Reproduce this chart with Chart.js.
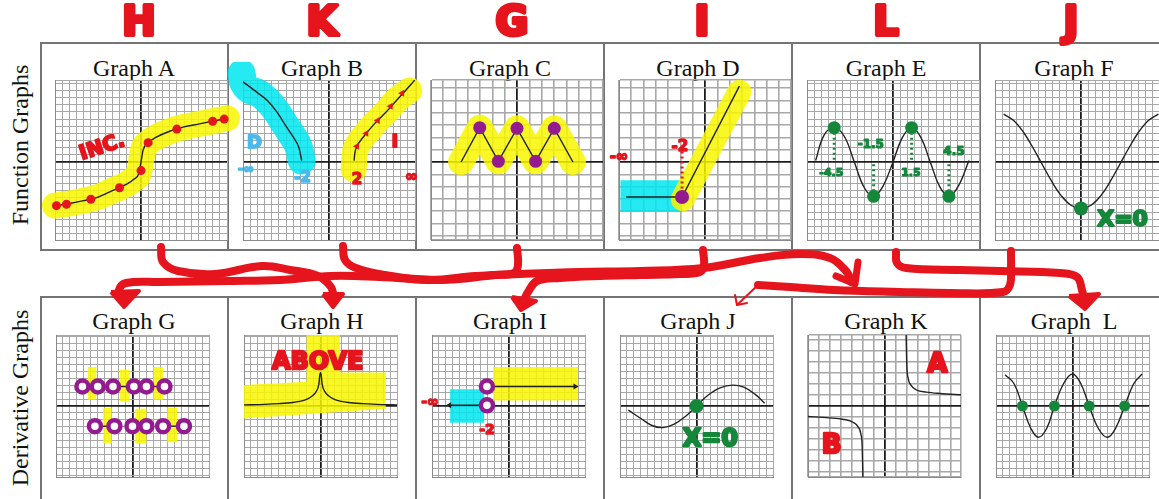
<!DOCTYPE html>
<html>
  <head>
    <meta charset="utf-8" />
    <title>Function Graphs vs Derivative Graphs</title>
    <script src="https://cdn.jsdelivr.net/npm/chart.js@4.4.1/dist/chart.umd.min.js"></script>
    <style>
      html, body { margin: 0; width: 1159px; height: 499px; overflow: hidden; background: #fff; }
      body { position: relative; font-family: "Liberation Serif", "DejaVu Serif", serif; color: #111; }
      .box { position: absolute; border: 2px solid #747474; box-sizing: border-box; }
      .vline { position: absolute; width: 2px; background: #747474; }
      .title { position: absolute; width: 188px; text-align: center; font-size: 24px; line-height: 24px; white-space: pre; }
      .row { position: absolute; width: 220px; height: 30px; line-height: 30px; text-align: center; font-size: 24px; transform: rotate(-90deg); white-space: nowrap; }
      canvas { position: absolute; }
    </style>
  </head>
  <body>
    <script>
      const RED = "#e5141d", YELLOW = "rgba(248,246,0,0.85)", CYAN = "rgba(0,230,240,0.85)";
      const PURPLE = "#941b8f", GREEN = "#15873b", BLUE = "#4db9ea", INK = "#222";

      // ---- function graphs (units: 1 = two small squares) ----
      const aX = [-6, -5, -4, -3, -2, -1, -0.5, -0.15, 0, 0.15, 0.5, 1, 2, 3, 4, 5, 6];
      const aY = [-3.05, -2.9, -2.7, -2.45, -2.0, -1.55, -1.2, -0.8, 0, 0.85, 1.35, 1.7, 2.15, 2.45, 2.65, 2.85, 3.05];
      const aMarkX = [-5.9, -5.2, -3.5, -1.5, 0, 0.5, 2.5, 5, 5.8];
      const aMarkY = [-3.05, -2.95, -2.6, -1.8, -0.6, 1.35, 2.3, 2.85, 3.0];

      const bLX = [-6, -5, -4.3, -3.6, -3, -2.5, -2.1, -1.9];
      const bLY = [5.6, 4.85, 4.3, 3.45, 2.5, 1.75, 1.0, 0.1];
      const bRX = [1.75, 1.8, 1.95, 2.2, 2.6, 3.2, 3.9, 4.8, 5.7, 6];
      const bRY = [0.1, 0.6, 1.1, 1.5, 2.0, 2.7, 3.4, 4.4, 5.4, 5.75];
      const bRBandX = [1.72, 1.8, 1.95, 2.2, 2.6, 3.2, 3.9, 4.8, 5.6];
      const bRBandY = [-0.5, 0.6, 1.1, 1.5, 2.0, 2.7, 3.4, 4.4, 5.0];
      const bMarkX = [1.95, 2.6, 3.4, 4.3, 5.1];
      const bMarkY = [1.1, 2.0, 2.9, 3.9, 4.8];

      const cX = [-3.9, -2.6, -1.3, 0, 1.3, 2.6, 3.9];
      const cY = [0, 2.4, 0.05, 2.35, 0.05, 2.35, 0];

      const dX = [-5.5, -1.6, 2.4];
      const dY = [-2.45, -2.45, 5.3];
      const dBandX = [-1.55, 2.4];
      const dBandY = [-2.6, 4.9];
      const dCyan = [-5.9, -1.6, -3.5, -1.27];

      const eX = [-5.4, -4.8, -4.1, -3.4, -2.7, -2.0, -1.35, -0.7, 0, 0.65, 1.3, 1.95, 2.6, 3.25, 3.9, 4.55, 5.3];
      const eY = [0.1, 1.9, 2.4, 1.8, 0, -1.8, -2.4, -1.7, 0, 1.7, 2.4, 1.7, 0, -1.7, -2.4, -1.7, 0.1];
      const eExtX = [-4.1, -1.35, 1.3, 3.9];
      const eExtY = [2.4, -2.4, 2.4, -2.4];

      const fX = [-5.4, -4.7, -4, -3.3, -2.8, -2, -1.4, -0.7, 0, 0.7, 1.4, 2, 2.8, 3.3, 4, 4.7, 5.4];
      const fY = [3.35, 2.9, 2.06, 0.91, 0, -1.43, -2.33, -3.02, -3.25, -3.02, -2.33, -1.43, 0, 0.91, 2.06, 2.9, 3.35];

      // ---- derivative graphs ----
      const gUpX = [-3.6, -2.5, -1.4, 0.1, 1.0, 2.3];
      const gLowX = [-2.7, -1.3, 0, 1.0, 2.2, 3.7];
      const gUpY = 1.4, gLowY = -1.45;
      const gBars = [[-3.2, -2.6, 0.45, 2.8], [-0.9, -0.2, 0.3, 2.6], [1.5, 2.2, 0.45, 2.8],
                     [-2.1, -1.5, -0.15, -2.7], [0.2, 1.0, -0.2, -2.7], [2.5, 3.2, -0.1, -2.6]];

      const hX = [-5.5, -4, -3, -2, -1.5, -1, -0.6, -0.3, -0.12, -0.02, 0.02, 0.12, 0.3, 0.6, 1, 1.5, 2, 3, 4, 5.5];
      const hY = [0.08, 0.12, 0.17, 0.25, 0.33, 0.48, 0.72, 1.05, 1.55, 2.4, 2.4, 1.55, 1.05, 0.72, 0.48, 0.33, 0.25, 0.17, 0.12, 0.08];
      const hHiX = [-5.5, -1.0, -1.0, 1.4, 1.4, 4.7, 4.7, -5.5];
      const hHiY = [1.5, 1.75, 5.6, 5.6, 2.4, 2.4, -0.2, -0.9];

      const iUpX = [-1.55, 4.8], iUpY = [1.4, 1.4];
      const iLowX = [-1.55, -4.25], iLowY = [0.05, 0.05];
      const iYellow = [-1.1, 5.0, 0.4, 2.8];
      const iCyan = [-4.2, -1.75, -1.2, 1.2];

      const jX = [-4.9, -4, -3.2, -2.4, -1.6, -0.8, 0, 0.8, 1.7, 2.6, 3.4, 4.2, 4.9];
      const jY = [-0.3, -0.9, -1.4, -1.55, -1.3, -0.75, 0, 0.75, 1.3, 1.5, 1.35, 0.85, 0.2];

      const kAX = [1.55, 1.6, 1.7, 1.9, 2.3, 3, 4, 5.6];
      const kAY = [5.3, 3, 2.0, 1.5, 1.15, 1.0, 0.9, 0.8];
      const kBX = [-5.6, -4, -3, -2.3, -1.9, -1.7, -1.6, -1.55];
      const kBY = [-0.75, -0.85, -0.95, -1.15, -1.5, -2.0, -3, -5.3];

      const lX = [-4.85, -4.2, -3.6, -3.0, -2.45, -1.85, -1.3, -0.65, 0, 0.6, 1.2, 1.85, 2.5, 3.1, 3.75, 4.4, 5.0];
      const lY = [2.25, 1.6, 0, -1.6, -2.25, -1.6, 0, 1.6, 2.3, 1.6, 0, -1.6, -2.25, -1.6, 0, 1.6, 2.3];
      const lZeroX = [-3.6, -1.3, 1.2, 3.75];

      // grid square size per panel, in chart units (C, D and K use a coarser grid)
      const topGridStep = [0.5, 0.5, 0.86, 0.86, 0.5, 0.5];
      const botGridStep = [0.5, 0.5, 0.5, 0.5, 0.79, 0.5];

      // ---- hand-drawn red arrows (page pixels) ----
      const topLetters = ["H", "K", "G", "I", "L", "J"];
      const letterX = [139, 322, 512, 702, 886, 1071];
      const strokeAH = [[161, 247], [163, 262], [178, 271], [215, 274], [262, 266], [290, 270], [318, 276], [331, 287], [334, 298]];
      const strokeBK = [[343, 246], [345, 260], [356, 268], [385, 275], [430, 280], [475, 276], [520, 274], [580, 272], [640, 271], [703, 268], [760, 258], [800, 254], [830, 258], [846, 271], [852, 282]];
      const strokeCG = [[517, 248], [518, 265], [514, 273], [495, 275], [440, 280], [380, 277], [331, 276], [280, 280], [228, 281], [160, 282], [126, 283], [119, 290], [122, 298]];
      const strokeDI = [[703, 250], [704, 265], [700, 272], [680, 274], [640, 275], [600, 276], [560, 278], [537, 281], [528, 292], [524, 300]];
      const strokeEL = [[896, 252], [897, 263], [906, 268], [960, 270], [1000, 271], [1060, 273], [1077, 277], [1082, 290], [1084, 300]];
      const strokeFJ = [[1011, 251], [1011, 270], [1010, 285], [1003, 292], [950, 293], [900, 292], [834, 290], [790, 287], [758, 285]];
      const thinFJ = [[758, 285], [737, 305]];
      const heads = [
        [[323, 294], [343, 294], [333, 307]],
        [[111, 292], [139, 291], [124, 307]],
        [[512, 297], [536, 301], [521, 310]],
        [[1069, 296], [1099, 294], [1085, 309]],
      ];
      const headK = [[858, 262], [855, 284], [836, 276]];
      const headJ = [[735, 295], [737, 305], [747, 303]];

      const pts = (xs, ys) => xs.map((x, i) => ({ x, y: Array.isArray(ys) ? ys[i] : ys }));
      const pairs = (arr) => arr.map(([x, y]) => ({ x, y }));

      function curve(xs, ys, extra) {
        return Object.assign({ data: pts(xs, ys), borderColor: INK, borderWidth: 1.4, pointRadius: 0, fill: false, tension: 0, order: 2 }, extra || {});
      }
      function band(xs, ys, color, w, extra) {
        return Object.assign({ data: pts(xs, ys), borderColor: color, borderWidth: w, borderCapStyle: "round",
          borderJoinStyle: "round", pointRadius: 0, fill: false, tension: 0, clip: false, order: 10 }, extra || {});
      }
      function rect(r, color) {
        const [x0, x1, y0, y1] = r;
        return { data: pts([x0, x1, x1, x0, x0], [y0, y0, y1, y1, y0]), fill: "shape", backgroundColor: color,
          borderColor: "rgba(0,0,0,0)", borderWidth: 0, pointRadius: 0, tension: 0, clip: false, order: 11 };
      }
      function poly(xs, ys, color) {
        return { data: pts(xs, ys), fill: "shape", backgroundColor: color, borderColor: "rgba(0,0,0,0)",
          borderWidth: 0, pointRadius: 0, tension: 0, clip: false, order: 11 };
      }
      function dots(xs, ys, color, r, extra) {
        return Object.assign({ data: pts(xs, ys), showLine: false, pointRadius: r, pointBackgroundColor: color,
          pointBorderColor: color, pointBorderWidth: 0, clip: false, order: 0 }, extra || {});
      }
      function rings(xs, ys) {
        return dots(xs, ys, "#fff", 6, { pointBorderColor: PURPLE, pointBorderWidth: 4.5 });
      }

      const notePlugin = (notes) => ({
        id: "notes",
        afterDatasetsDraw(chart) {
          const { ctx, scales: { x, y } } = chart;
          notes.forEach(([t, vx, vy, color, size, rot]) => {
            ctx.save();
            ctx.translate(x.getPixelForValue(vx), y.getPixelForValue(vy));
            if (rot) ctx.rotate((rot * Math.PI) / 180);
            ctx.font = `bold ${size}px "DejaVu Sans", sans-serif`;
            ctx.fillStyle = color;
            ctx.strokeStyle = color;
            ctx.lineWidth = size / 10;
            ctx.lineJoin = "round";
            ctx.textAlign = "center";
            ctx.textBaseline = "middle";
            ctx.strokeText(t, 0, 0);
            ctx.fillText(t, 0, 0);
            ctx.restore();
          });
        },
      });

      function gridTicks(min, max, step) {
        const t = [min, max];
        for (let k = 0; k * step <= max + 1e-9; k++) t.push(+(k * step).toFixed(6));
        for (let k = 1; -k * step >= min - 1e-9; k++) t.push(+(-k * step).toFixed(6));
        return [...new Set(t)].sort((a, b) => a - b).map((value) => ({ value }));
      }
      const isZero = (c) => c.tick && Math.abs(c.tick.value) < 1e-9;
      function gridScale(min, max, step) {
        return {
          type: "linear", min, max,
          ticks: { display: false },
          afterBuildTicks: (scale) => { scale.ticks = gridTicks(min, max, step); },
          grid: { drawTicks: false, color: (c) => (isZero(c) ? "#1c1c1c" : "#a8a8a8"), lineWidth: (c) => (isZero(c) ? 1.8 : step > 0.6 ? 1.6 : 1) },
          border: { display: true, color: "#8a8a8a", width: 1 },
        };
      }

      const PAD = 18;
      function makeGraph(left, top, w, h, xr, yr, step, datasets, notes) {
        const cv = document.createElement("canvas");
        cv.width = w + 2 * PAD;
        cv.height = h + 2 * PAD;
        cv.style.left = left - PAD + "px";
        cv.style.top = top - PAD + "px";
        document.body.appendChild(cv);
        new Chart(cv, {
          type: "line",
          data: { datasets },
          options: {
            responsive: false, animation: false, devicePixelRatio: 1,
            layout: { padding: PAD },
            plugins: { legend: { display: false }, tooltip: { enabled: false } },
            scales: { x: gridScale(xr[0], xr[1], step), y: gridScale(yr[0], yr[1], step) },
          },
          plugins: [notePlugin(notes || [])],
        });
      }

      // ---- page frame ----
      const panelLeft = [40, 228, 416, 604, 792, 980];
      const topNames = ["Graph A", "Graph B", "Graph C", "Graph D", "Graph E", "Graph F"];
      const botNames = ["Graph G", "Graph H", "Graph I", "Graph J", "Graph K", "Graph  L"];
      function el(cls, css, text) {
        const d = document.createElement("div");
        d.className = cls;
        Object.assign(d.style, css);
        if (text) d.textContent = text;
        document.body.appendChild(d);
      }
      el("box", { left: "40px", top: "42px", width: "1130px", height: "209px" });
      el("box", { left: "40px", top: "296px", width: "1130px", height: "260px" });
      panelLeft.slice(1).forEach((x) => {
        el("vline", { left: x - 1 + "px", top: "42px", height: "208px" });
        el("vline", { left: x - 1 + "px", top: "296px", height: "210px" });
      });
      panelLeft.forEach((x, i) => {
        el("title", { left: x + "px", top: "56px" }, topNames[i]);
        el("title", { left: x + "px", top: "309px" }, botNames[i]);
      });
      el("row", { left: "-90px", top: "130px" }, "Function Graphs");
      el("row", { left: "-90px", top: "383px" }, "Derivative Graphs");

      // ---- top row ----
      const TX = [-6, 6], TY = [-5.45, 5.73];
      const tg = (i) => [panelLeft[i] + 15, 80, 172, 160, TX, TY, topGridStep[i]];

      makeGraph(...tg(0), [
        band(aX, aY, YELLOW, 26, { cubicInterpolationMode: "monotone" }),
        curve(aX, aY, { cubicInterpolationMode: "monotone" }),
        dots(aMarkX, aMarkY, RED, 4.5),
      ], [["INC.", -2.7, 1.0, RED, 20, -18]]);

      makeGraph(...tg(1), [
        band([-6.1, ...bLX], [6.2, ...bLY], CYAN, 28, { cubicInterpolationMode: "monotone" }),
        band(bRBandX, bRBandY, YELLOW, 26, { cubicInterpolationMode: "monotone" }),
        curve(bLX, bLY, { cubicInterpolationMode: "monotone" }),
        curve(bRX, bRY, { cubicInterpolationMode: "monotone" }),
        dots(bMarkX, bMarkY, RED, 4, { pointStyle: "triangle", pointRotation: 30 }),
      ], [["I", 4.6, 1.4, RED, 18], ["2", 1.95, -1.3, RED, 15], ["∞", 5.75, -1.05, RED, 15],
          ["D", -5.2, 1.3, BLUE, 18], ["-∞", -5.8, -0.55, BLUE, 13], ["-2", -1.85, -1.1, BLUE, 15]]);

      makeGraph(...tg(2), [
        band(cX, cY, YELLOW, 26),
        curve(cX, cY),
        dots(cX.slice(1, 6), cY.slice(1, 6), PURPLE, 6.5),
      ]);

      makeGraph(...tg(3), [
        rect(dCyan, CYAN),
        band(dBandX, dBandY, YELLOW, 24),
        curve(dX, dY),
        curve([-1.6, -1.6], [-2.2, 0.75], { borderColor: RED, borderWidth: 3, borderDash: [2, 3], order: 1 }),
        dots([-1.6], [-2.45], PURPLE, 7),
      ], [["-2", -1.75, 1.05, RED, 15], ["-∞", -6.0, 0.35, RED, 15]]);

      makeGraph(...tg(4), [
        curve(eX, eY, { tension: 0.4 }),
        ...eExtX.map((x, i) => curve([x, x], [eExtY[i], 0], { borderColor: GREEN, borderWidth: 3, borderDash: [2, 3], order: 1 })),
        dots(eExtX, eExtY, GREEN, 6.5),
      ], [["-4.5", -4.3, -0.8, GREEN, 11], ["-1.5", -1.55, 1.2, GREEN, 12], ["1.5", 1.25, -0.75, GREEN, 11], ["4.5", 4.25, 0.7, GREEN, 12]]);

      makeGraph(...tg(5), [
        curve(fX, fY, { tension: 0.4 }),
        dots([0], [-3.25], GREEN, 7),
      ], [["X=0", 2.9, -4.05, GREEN, 22]]);

      // ---- bottom row ----
      const BX = [-5.5, 5.5], BY = [-5.1, 5.1];
      const bg = (i) => [panelLeft[i] + 16, 335, 153, 142, BX, BY, botGridStep[i]];

      makeGraph(...bg(0), [
        ...gBars.map((r) => rect(r, YELLOW)),
        ...[0, 2, 4].map((k) => curve(gUpX.slice(k, k + 2), gUpY)),
        ...[0, 2, 4].map((k) => curve(gLowX.slice(k, k + 2), gLowY)),
        rings(gUpX, gUpY),
        rings(gLowX, gLowY),
      ]);

      makeGraph(...bg(1), [
        poly(hHiX, hHiY, YELLOW),
        curve(hX, hY, { cubicInterpolationMode: "monotone" }),
      ], [["ABOVE", -0.2, 3.1, RED, 24]]);

      makeGraph(...bg(2), [
        rect(iYellow, YELLOW),
        rect(iCyan, CYAN),
        curve(iUpX, iUpY),
        curve(iLowX, iLowY),
        dots([iUpX[1]], [iUpY[1]], INK, 3.5, { pointStyle: "triangle", pointRotation: 90 }),
        dots([iLowX[1]], [iLowY[1]], INK, 3.5, { pointStyle: "triangle", pointRotation: -90 }),
        rings([iUpX[0], iLowX[0]], [iUpY[0], iLowY[0]]),
      ], [["-∞", -5.65, 0.25, RED, 14], ["-2", -1.55, -1.75, RED, 14]]);

      makeGraph(...bg(3), [
        curve(jX, jY, { tension: 0.4 }),
        dots([0], [0], GREEN, 7),
      ], [["X=0", 1.0, -2.45, GREEN, 24]]);

      makeGraph(...bg(4), [
        curve(kAX, kAY, { cubicInterpolationMode: "monotone" }),
        curve(kBX, kBY, { cubicInterpolationMode: "monotone" }),
      ], [["A", 3.8, 2.9, RED, 26], ["B", -3.8, -2.9, RED, 26]]);

      makeGraph(...bg(5), [
        curve(lX, lY, { tension: 0.4 }),
        dots(lZeroX, 0, GREEN, 5.5),
      ]);

      // ---- red annotation overlay ----
      const strokeDs = (p, w) => ({ data: pairs(p), borderColor: RED, borderWidth: w, borderCapStyle: "round",
        borderJoinStyle: "round", pointRadius: 0, tension: 0.4, fill: false, clip: false });
      const headDs = (p) => ({ data: pairs([...p, p[0]]), borderColor: RED, backgroundColor: RED, borderWidth: 4,
        borderJoinStyle: "round", pointRadius: 0, tension: 0, fill: "shape", clip: false });
      const ov = document.createElement("canvas");
      ov.width = 1159;
      ov.height = 499;
      ov.style.left = "0px";
      ov.style.top = "0px";
      ov.style.pointerEvents = "none";
      document.body.appendChild(ov);
      new Chart(ov, {
        type: "line",
        data: {
          datasets: [
            ...[strokeAH, strokeBK, strokeCG, strokeDI, strokeEL, strokeFJ].map((s) => strokeDs(s, 8)),
            strokeDs(thinFJ, 2),
            ...heads.map(headDs),
            Object.assign(strokeDs(headK, 7), { tension: 0 }),
            Object.assign(strokeDs(headJ, 2), { tension: 0 }),
          ],
        },
        options: {
          responsive: false, animation: false, devicePixelRatio: 1,
          layout: { padding: 0 },
          plugins: { legend: { display: false }, tooltip: { enabled: false } },
          scales: {
            x: { type: "linear", min: 0, max: 1159, display: false },
            y: { type: "linear", min: 0, max: 499, reverse: true, display: false },
          },
        },
        plugins: [notePlugin(topLetters.map((t, i) => [t, letterX[i], 25, RED, 40]))],
      });
    </script>
  </body>
</html>
